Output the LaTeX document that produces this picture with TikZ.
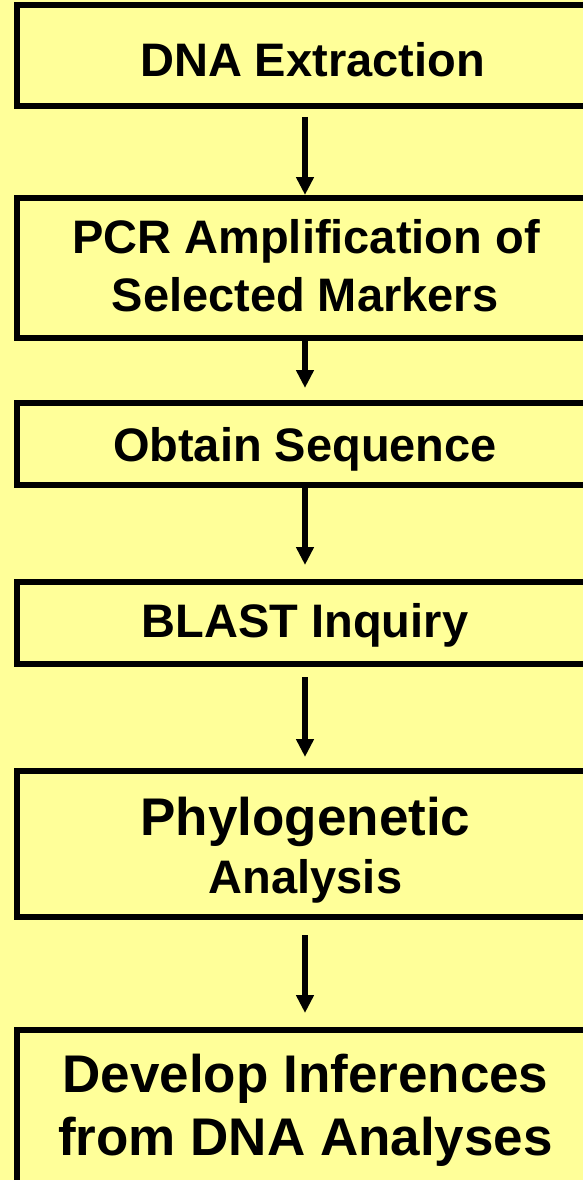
\documentclass[tikz,border=0pt]{standalone}
\usepackage{fontspec}
\setmainfont{Liberation Sans}
\usetikzlibrary{arrows.meta}
\definecolor{paper}{HTML}{FFFF99}
\tikzset{
  stepbox/.style={draw=black, line width=6pt, fill=paper, rectangle,
    outer sep=0pt, inner sep=0pt, anchor=north west, minimum width=603pt},
  caption/.style={anchor=base, inner sep=0pt, font=\bfseries\fontsize{47}{56}\selectfont},
  bigcaption/.style={caption, font=\bfseries\fontsize{53}{62}\selectfont},
  flow/.style={line width=6pt, -{Triangle[width=17pt,length=18pt]}},
}
\begin{document}
\begin{tikzpicture}[x=1pt,y=-1pt]
  \fill[paper] (0,0) rectangle (583,1180);
  \useasboundingbox (0,0) rectangle (583,1180);
  \clip (0,0) rectangle (583,1180);

  % process boxes (open to the right and bottom of the page)
  \node[stepbox, minimum height=101pt]   (b1) at (17,5.5)   {};
  \node[stepbox, minimum height=140.5pt] (b2) at (17,197.5) {};
  \node[stepbox, minimum height=82pt]    (b3) at (17,403)   {};
  \node[stepbox, minimum height=82pt]    (b4) at (17,581.5) {};
  \node[stepbox, minimum height=146.5pt] (b5) at (17,770.5) {};
  \node[stepbox, minimum height=200pt]   (b6) at (17,1029.5){};

  % labels
  \node[caption] (t1) at (312.5,77) {DNA Extraction};
  \node[caption] (t2a) at (306,253) {PCR Amplification of};
  \node[caption] (t2b) at (305,311) {Selected Markers};
  \node[caption] (t3) at (305,461) {Obtain Sequence};
  \node[caption] (t4) at (305,637) {BLAST Inquiry};
  \node[bigcaption] (t5a) at (305.5,835) {Phylogenetic};
  \node[caption] (t5b) at (305.5,893) {Analysis};
  \node[bigcaption] (t6a) at (305.5,1092) {Develop Inferences};
  \node[bigcaption] (t6b) at (305.5,1155) {from DNA Analyses};

  % arrows
  \coordinate (ax) at (305,0);
  \draw[flow, shorten <=10.5pt, shorten >=2.5pt] (b1.south -| ax) -- (b2.north -| ax);
  \draw[flow, shorten <=3pt,    shorten >=15pt]  (b2.south -| ax) -- (b3.north -| ax);
  \draw[flow, shorten <=3pt,    shorten >=16.5pt](b3.south -| ax) -- (b4.north -| ax);
  \draw[flow, shorten <=13.5pt, shorten >=13.5pt](b4.south -| ax) -- (b5.north -| ax);
  \draw[flow, shorten <=18pt,   shorten >=16.5pt](b5.south -| ax) -- (b6.north -| ax);
\end{tikzpicture}
\end{document}
